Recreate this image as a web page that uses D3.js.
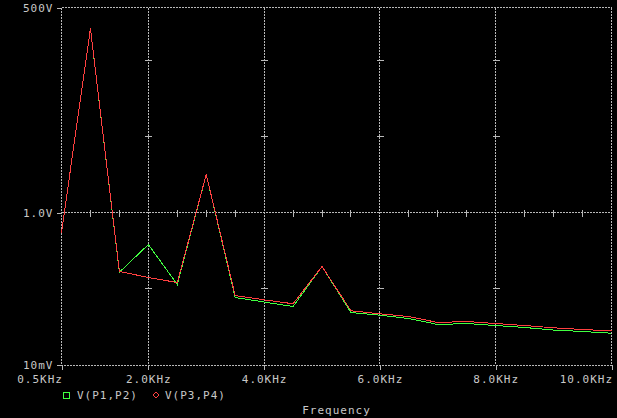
<!DOCTYPE html>
<html><head><meta charset="utf-8">
<script src="https://cdn.jsdelivr.net/npm/d3@7"></script>
<style>
html,body{margin:0;padding:0;background:#000;}
svg{display:block;}
text{font-family:"DejaVu Sans Mono",monospace;font-size:11px;letter-spacing:1px;fill:#c8c8c8;}
</style></head>
<body>
<svg id="c" width="617" height="418"></svg>
<script>
const freqs = [0.5,1.0,1.5,2.0,2.5,3.0,3.5,4.0,4.5,5.0,5.5,6.0,6.5,7.0,7.5,8.0,8.5,9.0,9.5,10.0];
const seriesP1P2 = [0.546,264.6,0.164,0.379,0.113,3.17,0.0762,0.0664,0.0580,0.195,0.0483,0.0446,0.0403,0.0336,0.0346,0.0326,0.0307,0.0284,0.0272,0.0258];
const seriesP3P4 = [0.546,264.6,0.168,0.1396,0.120,3.17,0.0809,0.0710,0.0630,0.195,0.0509,0.0465,0.0428,0.0357,0.0368,0.0346,0.0326,0.0304,0.0289,0.0277];
const xTicks = [0.5,2.0,4.0,6.0,8.0,10.0];
const xTickLabels = ["0.5KHz","2.0KHz","4.0KHz","6.0KHz","8.0KHz","10.0KHz"];
const yTicks = [500,1,0.01];
const yTickLabels = ["500V","1.0V","10mV"];
const yDecades = [100,10,0.1];
const xMinor = [1.0,1.5,2.5,3.0,3.5,4.5,5.0,5.5,6.5,7.0,7.5,8.5,9.0,9.5];
const legendNames = ["V(P1,P2)","V(P3,P4)"];

const L=61.5,R=611.5,T=7.5,B=364.5;
const x=d3.scaleLinear().domain([0.5,10]).range([L,R]);
const y=d3.scaleLog().domain([0.01,500]).range([B,T]);
const svg=d3.select("#c");
svg.append("rect").attr("width",617).attr("height",418).attr("fill","#000");
const gc="#b8b8b8";
const g=svg.append("g").attr("stroke",gc).attr("stroke-width",1).attr("shape-rendering","crispEdges");
// border
g.append("line").attr("x1",L).attr("x2",R).attr("y1",T).attr("y2",T).attr("stroke-dasharray","2,1");
g.append("line").attr("x1",R).attr("x2",R).attr("y1",T).attr("y2",B).attr("stroke-dasharray","2,1");
g.append("line").attr("x1",L).attr("x2",L).attr("y1",T).attr("y2",B).attr("stroke-dasharray","2,1");
// vertical grid
g.selectAll(".vg").data(xTicks.slice(1,-1)).join("line").attr("x1",d=>x(d)).attr("x2",d=>x(d)).attr("y1",T).attr("y2",B).attr("stroke-dasharray","2,1");
// horizontal grid at 1V
g.append("line").attr("x1",L).attr("x2",R).attr("y1",y(1)).attr("y2",y(1)).attr("stroke-dasharray","2,1");
// minor ticks on 1V line
g.selectAll(".mt").data(xMinor).join("line").attr("x1",d=>x(d)).attr("x2",d=>x(d)).attr("y1",y(1)-3).attr("y2",y(1)+4);
// decade ticks on vertical grid lines
xTicks.slice(1,-1).forEach(f=>{
  g.selectAll(null).data(yDecades).join("line").attr("x1",x(f)-3).attr("x2",x(f)+4).attr("y1",d=>y(d)).attr("y2",d=>y(d));
});

// axes
const xa=svg.append("g").attr("transform",`translate(0,${B})`)
 .call(d3.axisBottom(x).tickValues(xTicks).tickSize(5).tickPadding(6).tickFormat((d,i)=>xTickLabels[i]));
xa.select(".domain").attr("stroke",gc).attr("stroke-dasharray","2,1").attr("shape-rendering","crispEdges");
xa.selectAll(".tick line").attr("stroke",gc).attr("shape-rendering","crispEdges");
xa.selectAll("text").attr("fill","#c8c8c8").style("font-family",'"DejaVu Sans Mono",monospace').style("font-size","11px");
xa.selectAll(".tick text").filter((d,i)=>i===0).attr("text-anchor","end").attr("dx","1");
xa.selectAll(".tick text").filter((d,i)=>i===xTicks.length-1).attr("text-anchor","end").attr("dx","1");

const ya=svg.append("g").attr("transform",`translate(${L},0)`)
 .call(d3.axisLeft(y).tickValues(yTicks).tickSize(5).tickPadding(3).tickFormat((d,i)=>yTickLabels[i]));
ya.select(".domain").remove();
ya.selectAll(".tick line").attr("stroke",gc).attr("shape-rendering","crispEdges");
ya.selectAll("text").attr("fill","#c8c8c8").style("font-family",'"DejaVu Sans Mono",monospace').style("font-size","11px");

// lines
const line=vals=>d3.line().x((d,i)=>x(freqs[i])).y(d=>y(d))(vals);
svg.append("path").attr("d",line(seriesP1P2)).attr("fill","none").attr("stroke","#40ff40").attr("stroke-width",1).attr("shape-rendering","crispEdges");
svg.append("path").attr("d",line(seriesP3P4)).attr("fill","none").attr("stroke","#ff4040").attr("stroke-width",1).attr("shape-rendering","crispEdges");

// legend
svg.append("rect").attr("x",63.5).attr("y",392.5).attr("width",6).attr("height",6).attr("fill","none").attr("stroke","#40ff40").attr("shape-rendering","crispEdges");
svg.append("text").attr("x",77).attr("y",399).text(legendNames[0]);
svg.append("path").attr("d","M156,392 L159,395 L156,398 L153,395 Z").attr("fill","none").attr("stroke","#ff4040");
svg.append("text").attr("x",165).attr("y",399).text(legendNames[1]);
svg.append("text").attr("x",(L+R)/2).attr("y",414).attr("text-anchor","middle").text("Frequency");
</script>
</body></html>
